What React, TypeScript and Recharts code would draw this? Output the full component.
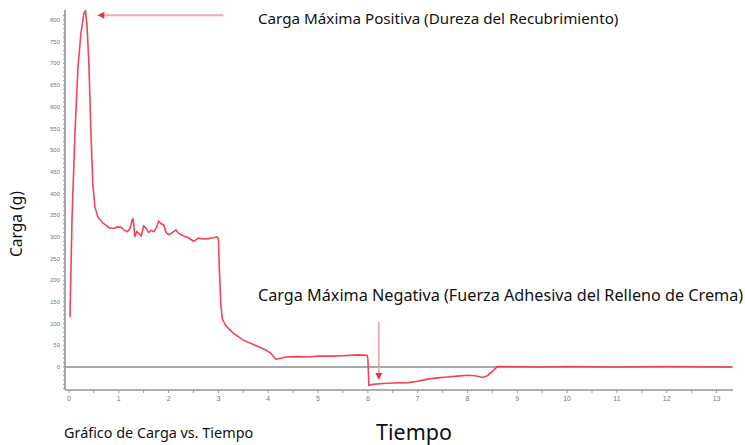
import React from 'react';
import { LineChart, Line, XAxis, YAxis, ReferenceLine } from 'recharts';

// Time (s) and load (g)
const TIME = [
  0.02, 0.06, 0.12, 0.18, 0.24, 0.3, 0.33, 0.36, 0.4, 0.44, 0.48, 0.52, 0.58, 0.68, 0.82, 0.9, 0.98,
  1.05, 1.1, 1.17, 1.22, 1.28, 1.3, 1.32, 1.36, 1.4, 1.45, 1.5, 1.55, 1.6, 1.65, 1.7, 1.75, 1.8, 1.85, 1.9, 1.95,
  2.0, 2.05, 2.1, 2.15, 2.2, 2.3, 2.4, 2.5, 2.55, 2.6, 2.7, 2.8, 2.9, 2.97, 3.0, 3.02, 3.05, 3.08, 3.15, 3.3,
  3.5, 3.7, 3.9, 4.05, 4.15, 4.25, 4.35, 4.6, 4.8, 5.0, 5.3, 5.5, 5.8, 5.98, 6.0, 6.02, 6.1, 6.3, 6.5, 6.8,
  7.0, 7.2, 7.4, 7.6, 7.8, 8.0, 8.15, 8.3, 8.4, 8.5, 8.6, 8.8, 9.5, 10.0, 11.0, 12.0, 13.3,
];
const LOAD = [
  115, 338, 540, 690, 770, 815, 822, 790, 700, 540, 420, 369, 346, 332, 320, 320, 323,
  322, 316, 312, 318, 343, 330, 300, 312, 308, 302, 325, 320, 310, 315, 312, 320, 336, 330, 328, 310,
  305, 308, 312, 316, 308, 302, 298, 290, 293, 297, 295, 296, 298, 300, 295, 220, 140, 110, 95, 78,
  62, 52, 42, 32, 18, 20, 23, 24, 23, 25, 25, 26, 28, 27, 20, -42, -40, -38, -37, -36,
  -33, -28, -25, -23, -21, -19, -20, -24, -20, -10, 1, 1, 0, 1, 0, 1, 0,
];

const X_TICKS = Array.from({ length: 27 }, (_, i) => i * 0.5);
const Y_TICKS = Array.from({ length: 87 }, (_, i) => -50 + i * 10);

const POS_TEXT = 'Carga Máxima Positiva (Dureza del Recubrimiento)';
const NEG_TEXT = 'Carga Máxima Negativa (Fuerza Adhesiva del Relleno de Crema)';
const Y_TITLE = 'Carga (g)';
const X_TITLE = 'Tiempo';
const CAPTION = 'Gráfico de Carga vs. Tiempo';

const data = TIME.map((t, i) => ({ t, load: LOAD[i] }));

const FONT = '"Noto Sans", "Open Sans", sans-serif';

const Arrow = (props: any) => {
  const { x1, y1, x2, y2, lineColor, headColor, width } = props;
  const dx = x2 - x1;
  const dy = y2 - y1;
  const len = Math.sqrt(dx * dx + dy * dy) || 1;
  const ux = dx / len;
  const uy = dy / len;
  const hl = 7;
  const hw = 3.5;
  const bx = x2 - ux * hl;
  const by = y2 - uy * hl;
  const pts = `${x2},${y2} ${bx - uy * hw},${by + ux * hw} ${bx + uy * hw},${by - ux * hw}`;
  return (
    <g>
      <line x1={x1} y1={y1} x2={bx} y2={by} stroke={lineColor} strokeWidth={width} />
      <polygon points={pts} fill={headColor} />
    </g>
  );
};

export default function App() {
  return (
    <div style={{ position: 'absolute', left: 0, top: 0, width: 745, height: 445, background: '#fff' }}>
      <LineChart width={745} height={445} data={data} margin={{ top: 10, right: 12, left: 55, bottom: 35 }}>
        <XAxis
          dataKey="t"
          type="number"
          domain={[-0.08, 13.33]}
          allowDataOverflow
          ticks={X_TICKS}
          interval={0}
          tickFormatter={(v: number) => (Number.isInteger(v) ? String(v) : '')}
          axisLine={{ stroke: '#b0b0b0', strokeWidth: 2 }}
          tickLine={{ stroke: '#999' }}
          tickSize={3}
          tickMargin={3}
          height={20}
          tick={{ fontSize: 7, fill: '#777', fontFamily: 'Arial, sans-serif' }}
        />
        <YAxis
          type="number"
          domain={[-53, 823]}
          allowDataOverflow
          ticks={Y_TICKS}
          interval={0}
          tickFormatter={(v: number) => (v % 50 === 0 && v >= 0 && v <= 800 ? String(v) : '')}
          axisLine={{ stroke: '#a8a8a8', strokeWidth: 2 }}
          tickLine={{ stroke: '#999' }}
          tickSize={2}
          tickMargin={3}
          width={10}
          tick={{ fontSize: 6, fill: '#777', fontFamily: 'Arial, sans-serif' }}
        />
        <ReferenceLine y={0} stroke="#a8a8a8" strokeWidth={2} />
        <ReferenceLine
          segment={[{ x: 3.1, y: 811 }, { x: 0.57, y: 811 }]}
          shape={(p: any) => <Arrow {...p} lineColor="#f7a9b0" headColor="#e83545" width={2} />}
        />
        <ReferenceLine
          segment={[{ x: 6.22, y: 104 }, { x: 6.22, y: -30 }]}
          shape={(p: any) => <Arrow {...p} lineColor="#f29aa2" headColor="#e83545" width={1.5} />}
        />
        <Line
          type="linear"
          dataKey="load"
          stroke="#ef4556"
          strokeWidth={1.6}
          dot={false}
          isAnimationActive={false}
        />
      </LineChart>
      <svg
        width={745}
        height={445}
        style={{ position: 'absolute', left: 0, top: 0, pointerEvents: 'none' }}
      >
        <text x={258} y={24} fontSize={15.2} fontFamily={FONT} fill="#111">{POS_TEXT}</text>
        <text x={258} y={301} fontSize={16.2} fontFamily={FONT} fill="#111">{NEG_TEXT}</text>
        <text x={64} y={438} fontSize={14.4} fontFamily={FONT} fill="#111">{CAPTION}</text>
        <text x={376} y={440} fontSize={21.5} fontFamily={FONT} fill="#111">{X_TITLE}</text>
        <text
          x={16}
          y={224}
          fontSize={15.5}
          fontFamily={FONT}
          fill="#111"
          textAnchor="middle"
          dominantBaseline="central"
          transform="rotate(-90 16 224)"
        >
          {Y_TITLE}
        </text>
      </svg>
    </div>
  );
}
